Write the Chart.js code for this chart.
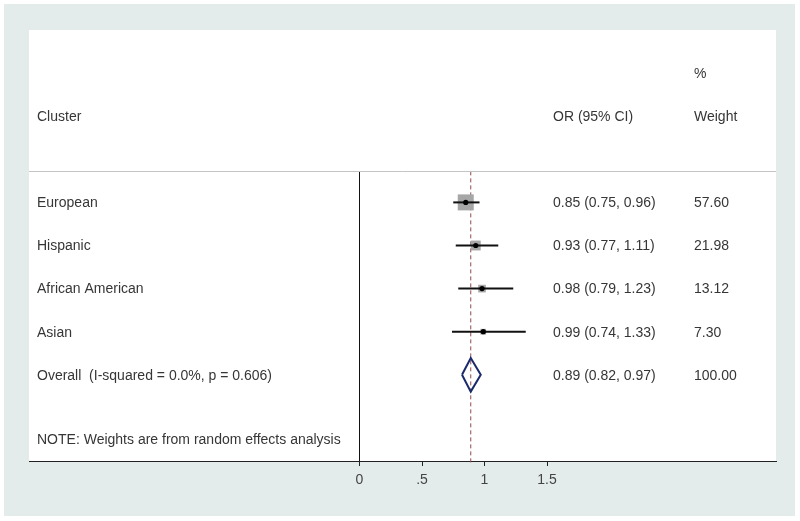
<!DOCTYPE html>
<html>
<head>
<meta charset="utf-8">
<script src="https://cdn.jsdelivr.net/npm/chart.js@4/dist/chart.umd.min.js"></script>
<style>
  html, body { margin: 0; padding: 0; background: #fff; }
  #wrap { width: 800px; height: 521px; }
</style>
</head>
<body>
<div id="wrap"><canvas id="chart"></canvas></div>
<script>
// study rows
const clusters = ["European", "Hispanic", "African American", "Asian"];
const orValues = [0.85, 0.93, 0.98, 0.99];
const ciLower = [0.75, 0.77, 0.79, 0.74];
const ciUpper = [0.96, 1.11, 1.23, 1.33];
const weights = [57.60, 21.98, 13.12, 7.30];

// pooled estimate
const overallLabel = "Overall  (I-squared = 0.0%, p = 0.606)";
const overallOR = [0.89];
const overallCI = [0.82, 0.97];
const overallWeight = [100.00];

const xTicks = [0, 0.5, 1, 1.5];
const noteText = "NOTE: Weights are from random effects analysis";

const FAMILY = "'Liberation Sans', Arial, sans-serif";
const FONT = "14px " + FAMILY;
const TEXT = "#363636";
const overallRow = clusters.length + 1;

const fmt = v => v.toFixed(2);

// CI whiskers, one small line dataset per row
const ciSets = clusters.map((c, i) => ({
  type: "line",
  data: [{ x: ciLower[i], y: i + 1 }, { x: ciUpper[i], y: i + 1 }],
  borderColor: "#111",
  borderWidth: 2,
  pointRadius: 0,
  order: 3
}));

const boxes = {
  data: clusters.map((c, i) => ({ x: orValues[i], y: i + 1 })),
  pointStyle: "rect",
  pointRadius: ctx => 16 * Math.sqrt(weights[ctx.dataIndex] / weights[0]) / Math.SQRT2,
  backgroundColor: "#a6a6a6",
  borderWidth: 0,
  order: 4
};

const dots = {
  data: clusters.map((c, i) => ({ x: orValues[i], y: i + 1 })),
  pointRadius: 2.6,
  backgroundColor: "#000",
  borderWidth: 0,
  order: 2
};

const diamond = {
  type: "line",
  data: [
    { x: overallCI[0], y: overallRow },
    { x: overallOR[0], y: overallRow - 0.39 },
    { x: overallCI[1], y: overallRow },
    { x: overallOR[0], y: overallRow + 0.39 },
    { x: overallCI[0], y: overallRow }
  ],
  borderColor: "#1b2a6b",
  borderWidth: 2,
  pointRadius: 0,
  tension: 0,
  order: 1
};

const refLine = {
  type: "line",
  data: [{ x: overallOR[0], y: 0.28 }, { x: overallOR[0], y: 7.1 }],
  borderColor: "#8e4b4b",
  borderWidth: 1,
  borderDash: [4, 3],
  pointRadius: 0,
  clip: false,
  order: 5
};

const nullLine = {
  type: "line",
  data: [{ x: 0, y: 0.28 }, { x: 0, y: 7 }],
  borderColor: "#111",
  borderWidth: 1,
  pointRadius: 0,
  order: 6
};

const panelPlugin = {
  id: "panel",
  beforeDraw(c) {
    const ctx = c.ctx;
    ctx.save();
    ctx.fillStyle = "#fff";
    ctx.fillRect(0, 0, c.width, c.height);
    ctx.fillStyle = "#e4ebeb";
    ctx.fillRect(4, 4, 791, 512);
    const a = c.chartArea;
    ctx.fillStyle = "#fff";
    ctx.fillRect(a.left, a.top, a.right - a.left, a.bottom - a.top);
    ctx.restore();
  },
  afterDatasetsDraw(c) {
    const ctx = c.ctx;
    const a = c.chartArea;
    const y = c.scales.y;
    ctx.save();
    // header separator
    ctx.strokeStyle = "#c4c4c4";
    ctx.lineWidth = 1;
    ctx.beginPath();
    ctx.moveTo(a.left, Math.round(y.getPixelForValue(0.28)) + 0.5);
    ctx.lineTo(a.right, Math.round(y.getPixelForValue(0.28)) + 0.5);
    ctx.stroke();

    ctx.font = FONT;
    ctx.fillStyle = TEXT;
    ctx.textBaseline = "middle";
    const colName = 37, colOR = 553, colW = 694, dy = 1;
    const row = v => y.getPixelForValue(v) + dy;
    ctx.fillText("%", colW, row(-2));
    ctx.fillText("Cluster", colName, row(-1));
    ctx.fillText("OR (95% CI)", colOR, row(-1));
    ctx.fillText("Weight", colW, row(-1));
    clusters.forEach((name, i) => {
      const py = row(i + 1);
      ctx.fillText(name, colName, py);
      ctx.fillText(`${fmt(orValues[i])} (${fmt(ciLower[i])}, ${fmt(ciUpper[i])})`, colOR, py);
      ctx.fillText(fmt(weights[i]), colW, py);
    });
    const oy = row(overallRow);
    ctx.fillText(overallLabel, colName, oy);
    ctx.fillText(`${fmt(overallOR[0])} (${fmt(overallCI[0])}, ${fmt(overallCI[1])})`, colOR, oy);
    ctx.fillText(fmt(overallWeight[0]), colW, oy);
    ctx.fillText(noteText, colName, row(6.5));
    ctx.restore();
  }
};

new Chart(document.getElementById("chart"), {
  type: "scatter",
  data: { datasets: [boxes, dots, diamond, refLine, nullLine, ...ciSets] },
  options: {
    responsive: true,
    maintainAspectRatio: false,
    animation: false,
    layout: { padding: { left: 29, right: 24, top: 30, bottom: 0 } },
    plugins: { legend: { display: false }, tooltip: { enabled: false } },
    scales: {
      x: {
        type: "linear",
        min: -2.644,
        max: 3.332,
        afterBuildTicks: s => { s.ticks = xTicks.map(v => ({ value: v })); },
        afterFit: s => { s.height = 60; },
        grid: { drawOnChartArea: false, tickLength: 5, color: "#222" },
        border: { color: "#222", width: 1 },
        ticks: {
          padding: 6,
          color: "#444",
          font: { family: FAMILY, size: 14 },
          callback: v => String(v).replace(/^0\./, ".")
        }
      },
      y: {
        type: "linear",
        reverse: true,
        min: -3,
        max: 7,
        display: false
      }
    }
  },
  plugins: [panelPlugin]
});
</script>
</body>
</html>
